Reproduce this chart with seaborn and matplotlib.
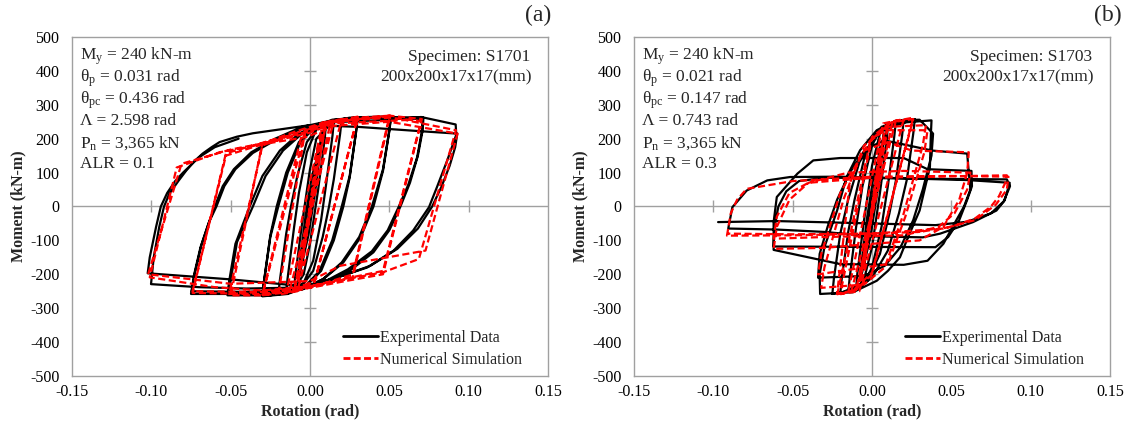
import matplotlib
matplotlib.use("Agg")
import matplotlib.pyplot as plt
from matplotlib.lines import Line2D
import pandas as pd
import seaborn as sns

# ---------------------------------------------------------------------------
# Hysteresis paths (rotation [rad], moment [kN-m]) in loading order
# ---------------------------------------------------------------------------
S1701_TEST = [
    (0.000, 0), (0.0050, 170), (0.0048, 150), (0.0020, 25), (-0.0020, -65), (-0.0050, -170),
    (-0.0048, -150), (-0.0020, -25), (0.0020, 65),
    (0.0075, 215), (0.0070, 180), (0.0030, 35), (-0.0010, -85), (-0.0075, -220),
    (-0.0070, -185), (-0.0030, -35), (0.0010, 85),
    (0.0100, 240), (0.0093, 200), (0.0050, 45), (0.0000, -110), (-0.0040, -200), (-0.0100, -245),
    (-0.0093, -205), (-0.0050, -50), (0.0000, 110), (0.0040, 200),
    (0.0150, 252), (0.0142, 210), (0.0100, 60), (0.0070, -40), (0.0020, -160), (-0.0040, -225),
    (-0.0150, -255), (-0.0142, -215), (-0.0100, -60), (-0.0070, 40), (-0.0020, 160), (0.0040, 228),
    (0.0200, 258), (0.0190, 215), (0.0150, 80), (0.0120, 0), (0.0080, -90), (0.0020, -190),
    (-0.0060, -240), (-0.0200, -260), (-0.0190, -218), (-0.0150, -80), (-0.0120, 0), (-0.0080, 90),
    (-0.0020, 190), (0.0060, 240),
    (0.0300, 264), (0.0290, 220), (0.0250, 90), (0.0200, 0), (0.0140, -100), (0.0060, -190),
    (-0.0040, -240), (-0.0140, -258), (-0.0300, -265), (-0.0290, -222), (-0.0250, -90), (-0.0200, 0),
    (-0.0140, 100), (-0.0060, 190), (0.0040, 238), (0.0140, 256),
    (0.0300, 262), (0.0290, 218), (0.0250, 85), (0.0210, 0), (0.0150, -100), (0.0070, -190),
    (-0.0030, -238), (-0.0140, -256), (-0.0300, -262), (-0.0290, -220), (-0.0250, -85), (-0.0210, 0),
    (-0.0150, 100), (-0.0070, 190), (0.0030, 236), (0.0150, 255), (0.0300, 263),
    (0.0510, 266), (0.0500, 225), (0.0460, 110), (0.0390, 0), (0.0310, -90), (0.0200, -165),
    (0.0080, -215), (-0.0050, -245), (-0.0250, -262), (-0.0520, -262), (-0.0510, -222),
    (-0.0470, -110), (-0.0380, 0), (-0.0300, 90), (-0.0190, 165), (-0.0070, 215), (0.0060, 245),
    (0.0250, 262),
    (0.0510, 262), (0.0500, 222), (0.0460, 105), (0.0400, 0), (0.0320, -90), (0.0210, -165),
    (0.0090, -212), (-0.0040, -243), (-0.0250, -258), (-0.0510, -258), (-0.0500, -218),
    (-0.0460, -105), (-0.0360, 0), (-0.0280, 90), (-0.0170, 165), (-0.0050, 215), (0.0080, 245),
    (0.0300, 260), (0.0500, 264),
    (0.0715, 262), (0.0710, 225), (0.0680, 150), (0.0630, 70), (0.0570, 0), (0.0500, -70),
    (0.0400, -135), (0.0250, -190), (0.0100, -225), (-0.0100, -248), (-0.0400, -258),
    (-0.0750, -258), (-0.0730, -200), (-0.0690, -120), (-0.0640, -50), (-0.0600, 0), (-0.0550, 60),
    (-0.0480, 110), (-0.0370, 160), (-0.0220, 200), (-0.0050, 235), (0.0100, 250), (0.0400, 262),
    (0.0710, 258), (0.0705, 222), (0.0675, 145), (0.0620, 65), (0.0560, 0), (0.0490, -70),
    (0.0390, -132), (0.0240, -185), (0.0090, -222), (-0.0100, -244), (-0.0400, -252),
    (-0.0745, -250), (-0.0725, -195), (-0.0685, -115), (-0.0635, -45), (-0.0590, 0), (-0.0540, 60),
    (-0.0470, 110), (-0.0360, 158), (-0.0210, 198), (-0.0040, 232), (0.0120, 248), (0.0500, 256),
    (0.0700, 264), (0.0918, 242),
    (0.0922, 212), (0.0865, 136), (0.0800, 57), (0.0750, -2), (0.0650, -71), (0.0527, -130),
    (0.0360, -180), (0.0147, -213), (-0.0060, -239), (-0.0400, -242), (-0.0700, -238),
    (-0.1002, -229), (-0.0985, -150), (-0.0950, -60), (-0.0920, 0), (-0.0886, 38), (-0.0830, 75),
    (-0.0780, 106), (-0.0730, 133), (-0.0677, 156), (-0.0620, 175), (-0.0570, 190),
    (-0.0460, 206), (-0.0360, 216), (-0.0148, 230), (0.0000, 240), (0.0300, 235),
    (0.0700, 222), (0.0928, 215),
    (0.0915, 175), (0.0880, 120), (0.0830, 60), (0.0770, 0), (0.0680, -65), (0.0550, -125),
    (0.0380, -175), (0.0170, -210), (-0.0040, -235), (-0.0500, -215), (-0.1023, -197),
    (-0.1010, -150), (-0.0970, -60), (-0.0940, 0), (-0.0900, 40), (-0.0850, 75), (-0.0800, 100),
    (-0.0700, 145), (-0.0600, 175), (-0.0450, 200),
]

S1701_MODEL = [
    (0.000, 0), (0.0050, 168), (-0.0050, -172), (0.0075, 218), (-0.0075, -222),
    (0.0100, 244), (-0.0100, -248),
    (0.0130, 250), (0.0150, 252), (-0.0130, -250), (-0.0150, -255),
    (0.0080, 248), (0.0200, 258), (-0.0080, -250), (-0.0200, -260),
    (-0.0030, 224), (0.0100, 248), (0.0300, 265), (0.0030, -222), (-0.0100, -245), (-0.0300, -262),
    (-0.0030, 220), (0.0100, 246), (0.0300, 262), (0.0030, -220), (-0.0100, -243), (-0.0300, -260),
    (-0.0050, 215), (0.0100, 248), (0.0300, 262), (0.0505, 268),
    (0.0270, -209), (0.0100, -228), (-0.0100, -250), (-0.0300, -262), (-0.0500, -262),
    (-0.0300, 186), (-0.0100, 220), (0.0100, 250), (0.0500, 265),
    (0.0270, -200), (0.0100, -225), (-0.0100, -246), (-0.0510, -258),
    (-0.0300, 180), (-0.0100, 215), (0.0150, 250), (0.0500, 268), (0.0705, 258),
    (0.0460, -200), (0.0200, -222), (0.0000, -240), (-0.0300, -258), (-0.0740, -255),
    (-0.0530, 157), (-0.0270, 192), (0.0000, 222), (0.0150, 250), (0.0500, 262), (0.0700, 252),
    (0.0460, -190), (0.0200, -215), (0.0000, -235), (-0.0300, -252), (-0.0740, -250),
    (-0.0530, 150), (-0.0270, 188), (0.0000, 218), (0.0150, 245), (0.0600, 255), (0.0920, 225),
    (0.0686, -155), (0.0460, -194), (0.0000, -235), (-0.0300, -248), (-0.0600, -238),
    (-0.1010, -209),
    (-0.0840, 115), (-0.0570, 160), (-0.0270, 186), (-0.0020, 205), (0.0150, 238), (0.0500, 250),
    (0.0930, 215),
    (0.0728, -130), (0.0190, -175), (0.0000, -220), (-0.0500, -228), (-0.1020, -200),
    (-0.0810, 126), (-0.0500, 168), (-0.0200, 195),
]

S1703_TEST = [
    (0.000, 0), (0.0050, 175), (0.0045, 140), (0.0015, 20), (-0.0020, -70), (-0.0050, -175),
    (-0.0045, -140), (-0.0015, -20), (0.0020, 70),
    (0.0075, 215), (0.0070, 175), (0.0030, 30), (-0.0010, -90), (-0.0075, -220),
    (-0.0070, -180), (-0.0030, -30), (0.0010, 90),
    (0.0100, 238), (0.0093, 195), (0.0050, 40), (0.0000, -120), (-0.0050, -215), (-0.0100, -242),
    (-0.0093, -200), (-0.0050, -40), (0.0000, 120), (0.0050, 215),
    (0.0150, 250), (0.0140, 205), (0.0100, 60), (0.0060, -60), (0.0000, -180), (-0.0060, -235),
    (-0.0150, -252), (-0.0140, -208), (-0.0100, -60), (-0.0060, 60), (0.0000, 180), (0.0060, 235),
    (0.0200, 256), (0.0190, 210), (0.0150, 75), (0.0110, -20), (0.0050, -140), (-0.0030, -220),
    (-0.0200, -256), (-0.0190, -210), (-0.0150, -75), (-0.0110, 20), (-0.0050, 140), (0.0030, 220),
    (0.0270, 258), (0.0260, 215), (0.0220, 80), (0.0170, -20), (0.0100, -130), (0.0000, -210),
    (-0.0100, -245), (-0.0250, -258), (-0.0240, -212), (-0.0200, -80), (-0.0150, 20),
    (-0.0080, 130), (0.0020, 210), (0.0120, 245),
    (0.0375, 254), (0.0370, 200), (0.0365, 116), (0.0300, -12), (0.0218, -101), (0.0176, -150),
    (0.0100, -190), (0.0030, -219), (-0.0120, -253), (-0.0327, -258),
    (-0.0330, -200), (-0.0300, -120), (-0.0220, -12), (-0.0160, 87), (-0.0075, 166), (0.0030, 225),
    (0.0155, 254), (0.0300, 256),
    (0.0385, 215), (0.0375, 150), (0.0320, 50), (0.0260, -40), (0.0180, -120), (0.0080, -175),
    (-0.0050, -205), (-0.0340, -210),
    (-0.0330, -140), (-0.0280, -60), (-0.0220, 20), (-0.0140, 100), (-0.0040, 170), (0.0080, 195),
    (0.0380, 165), (0.0600, 156),
    (0.0610, 100), (0.0620, 50), (0.0580, 0), (0.0520, -50), (0.0450, -110), (0.0350, -160),
    (0.0200, -172), (-0.0200, -170), (-0.0400, -150), (-0.0620, -128),
    (-0.0620, -46), (-0.0600, 28), (-0.0470, 97), (-0.0370, 136), (-0.0200, 143), (0.0200, 143),
    (0.0350, 110), (0.0627, 105),
    (0.0630, 60), (0.0600, 20), (0.0550, -40), (0.0480, -90), (0.0400, -120), (-0.0620, -118),
    (-0.0615, -60), (-0.0590, 0), (-0.0540, 45), (-0.0460, 75), (-0.0300, 85), (0.0200, 83),
    (0.0600, 78), (0.0868, 70),
    (0.0836, 18), (0.0784, -12), (0.0637, -46), (0.0430, -80), (0.0320, -91), (0.0000, -88),
    (-0.0300, -75), (-0.0600, -68), (-0.0906, -65),
    (-0.0880, -2), (-0.0790, 47), (-0.0660, 77), (-0.0516, 87), (-0.0200, 88), (0.0300, 82),
    (0.0850, 80),
    (0.0870, 60), (0.0830, 15), (0.0750, -20), (0.0600, -45), (0.0400, -55), (0.0000, -50),
    (-0.0600, -43), (-0.0970, -46),
]

S1703_MODEL = [
    (0.000, 0), (0.0050, 170), (-0.0050, -175), (0.0075, 215), (-0.0075, -220),
    (0.0100, 240), (-0.0090, -240), (-0.0100, -245),
    (0.0130, 250), (0.0150, 252), (-0.0130, -250), (-0.0150, -253),
    (0.0070, 245), (0.0200, 258), (-0.0080, -250), (-0.0200, -258),
    (0.0000, 205), (0.0120, 250), (0.0260, 262), (0.0000, -200), (-0.0100, -245), (-0.0220, -262),
    (-0.0010, 195), (0.0120, 248), (0.0260, 258), (0.0000, -195), (-0.0120, -248), (-0.0220, -258),
    (-0.0140, 68), (-0.0075, 145), (-0.0010, 195), (0.0100, 235), (0.0340, 240),
    (0.0320, 180), (0.0200, -20), (0.0080, -180), (-0.0050, -230), (-0.0320, -240),
    (-0.0300, -180), (-0.0180, 20), (-0.0050, 180), (0.0080, 225), (0.0350, 225),
    (0.0330, 160), (0.0210, -30), (0.0100, -170), (-0.0340, -200),
    (-0.0320, -140), (-0.0200, 40), (-0.0050, 165), (0.0100, 190), (0.0250, 165), (0.0610, 160),
    (0.0600, 100), (0.0550, 20), (0.0450, -60), (0.0300, -100), (0.0000, -110), (-0.0300, -122),
    (-0.0620, -125),
    (-0.0600, -60), (-0.0520, 20), (-0.0400, 70), (-0.0150, 100), (0.0200, 105), (0.0620, 100),
    (0.0600, 50), (0.0520, -20), (0.0420, -60), (0.0200, -85), (-0.0300, -90), (-0.0620, -95),
    (-0.0600, -30), (-0.0520, 40), (-0.0400, 70), (0.0000, 85), (0.0850, 92),
    (0.0840, 70), (0.0800, 30), (0.0750, 0), (0.0650, -35), (0.0500, -60), (0.0300, -75),
    (0.0000, -80), (-0.0500, -85), (-0.0914, -86),
    (-0.0890, -20), (-0.0850, 20), (-0.0790, 52), (-0.0500, 75), (0.0000, 88), (0.0500, 90),
    (0.0860, 88),
    (0.0850, 50), (0.0780, 5), (0.0650, -40), (0.0450, -65), (0.0000, -80), (-0.0500, -82),
    (-0.0914, -80),
]

PANELS = ["(a)", "(b)"]
SPECIMENS = ["S1701", "S1703"]
SECTION = "200x200x17x17(mm)"
MY = [240, 240]
THETA_P = [0.031, 0.021]
THETA_PC = [0.436, 0.147]
LAMBDA = [2.598, 0.743]
PN = ["3,365", "3,365"]
ALR = [0.1, 0.3]

X_TICKS = [-0.15, -0.10, -0.05, 0.00, 0.05, 0.10, 0.15]
Y_TICKS = [500, 400, 300, 200, 100, 0, -100, -200, -300, -400, -500]

SERIES_NAMES = ["Experimental Data", "Numerical Simulation"]

# ---------------------------------------------------------------------------
sns.set_theme(style="white")
plt.rcParams["font.family"] = ["Liberation Serif", "DejaVu Serif"]
plt.rcParams["mathtext.fontset"] = "custom"
plt.rcParams["mathtext.rm"] = "Liberation Serif"
plt.rcParams["mathtext.it"] = "Liberation Serif:italic"
plt.rcParams["axes.unicode_minus"] = False

W, H = 1128, 426
fig = plt.figure(figsize=(W / 100, H / 100), dpi=100)
fig.patch.set_facecolor("white")

GRAY = "#a0a0a0"
frames = [(72, 37, 476, 339), (634, 37, 476, 339)]
panel_label_right = [551, 1122]
test_paths = [S1701_TEST, S1703_TEST]
model_paths = [S1701_MODEL, S1703_MODEL]
DASH = (0, (3.2, 1.6))

for i, (l, t, w, h) in enumerate(frames):
    ax = fig.add_axes([l / W, (H - t - h) / H, w / W, h / H])
    ax.set_facecolor("white")

    # zero axes with cross ticks
    ax.axhline(0, color=GRAY, lw=1.0, zorder=1)
    ax.axvline(0, color=GRAY, lw=1.0, zorder=1)
    xt = [v for v in X_TICKS if v not in (0.0, X_TICKS[0], X_TICKS[-1])]
    yt = [v for v in Y_TICKS if v not in (0, Y_TICKS[0], Y_TICKS[-1])]
    ax.plot(xt, [0] * len(xt), ls="none", marker="|", ms=8, mew=1.0, color=GRAY, zorder=1)
    ax.plot([0] * len(yt), yt, ls="none", marker="_", ms=8, mew=1.0, color=GRAY, zorder=1)

    df_t = pd.DataFrame(test_paths[i], columns=["rotation", "moment"])
    df_m = pd.DataFrame(model_paths[i], columns=["rotation", "moment"])
    sns.lineplot(data=df_t, x="rotation", y="moment", sort=False, estimator=None,
                 color="black", lw=1.6, ax=ax, zorder=3)
    sns.lineplot(data=df_m, x="rotation", y="moment", sort=False, estimator=None,
                 color="#ff0000", lw=1.6, linestyle=DASH, ax=ax, zorder=4)

    ax.set_xlim(-0.15, 0.15)
    ax.set_ylim(-500, 500)
    ax.set_xticks(X_TICKS)
    ax.set_xticklabels([f"{v:.2f}" for v in X_TICKS])
    ax.set_yticks(Y_TICKS)
    ax.set_yticklabels([f"{v:d}" for v in Y_TICKS])
    ax.tick_params(axis="both", length=0, labelsize=11.5, colors="black")
    ax.tick_params(axis="x", pad=6)
    ax.tick_params(axis="y", pad=9)
    for s in ax.spines.values():
        s.set_color(GRAY)
        s.set_linewidth(1.0)

    ax.set_xlabel("Rotation (rad)", fontsize=11.5, fontweight="bold", labelpad=2)
    ax.set_ylabel("Moment (kN-m)", fontsize=11.5, fontweight="bold", labelpad=3)

    lines = [
        rf"M$_\mathrm{{y}}$ = {MY[i]} kN-m",
        rf"θ$_\mathrm{{p}}$ = {THETA_P[i]:.3f} rad",
        rf"θ$_\mathrm{{pc}}$ = {THETA_PC[i]:.3f} rad",
        rf"Λ = {LAMBDA[i]:.3f} rad",
        rf"P$_\mathrm{{n}}$ = {PN[i]} kN",
        f"ALR = {ALR[i]}",
    ]
    for k, s in enumerate(lines):
        ax.text(0.017, 0.942 - k * 0.0635, s, transform=ax.transAxes, fontsize=12.5,
                ha="left", va="center")
    ax.text(0.963, 0.942, f"Specimen: {SPECIMENS[i]}", transform=ax.transAxes,
            fontsize=12.5, ha="right", va="center")
    ax.text(0.966, 0.880, SECTION, transform=ax.transAxes, fontsize=12.5,
            ha="right", va="center")

    handles = [Line2D([], [], color="black", lw=2.0),
               Line2D([], [], color="#ff0000", lw=2.0, linestyle=(0, (2.5, 1.2)))]
    ax.legend(handles, SERIES_NAMES, loc="lower left", bbox_to_anchor=(0.555, 0.005),
              frameon=False, fontsize=11.5, handlelength=2.2, handletextpad=0.15,
              labelspacing=0.4, borderaxespad=0)

    fig.text(panel_label_right[i] / W, (H - 15) / H, PANELS[i], fontsize=17,
             ha="right", va="center")

fig.savefig("out.png", dpi=100, facecolor="white")
